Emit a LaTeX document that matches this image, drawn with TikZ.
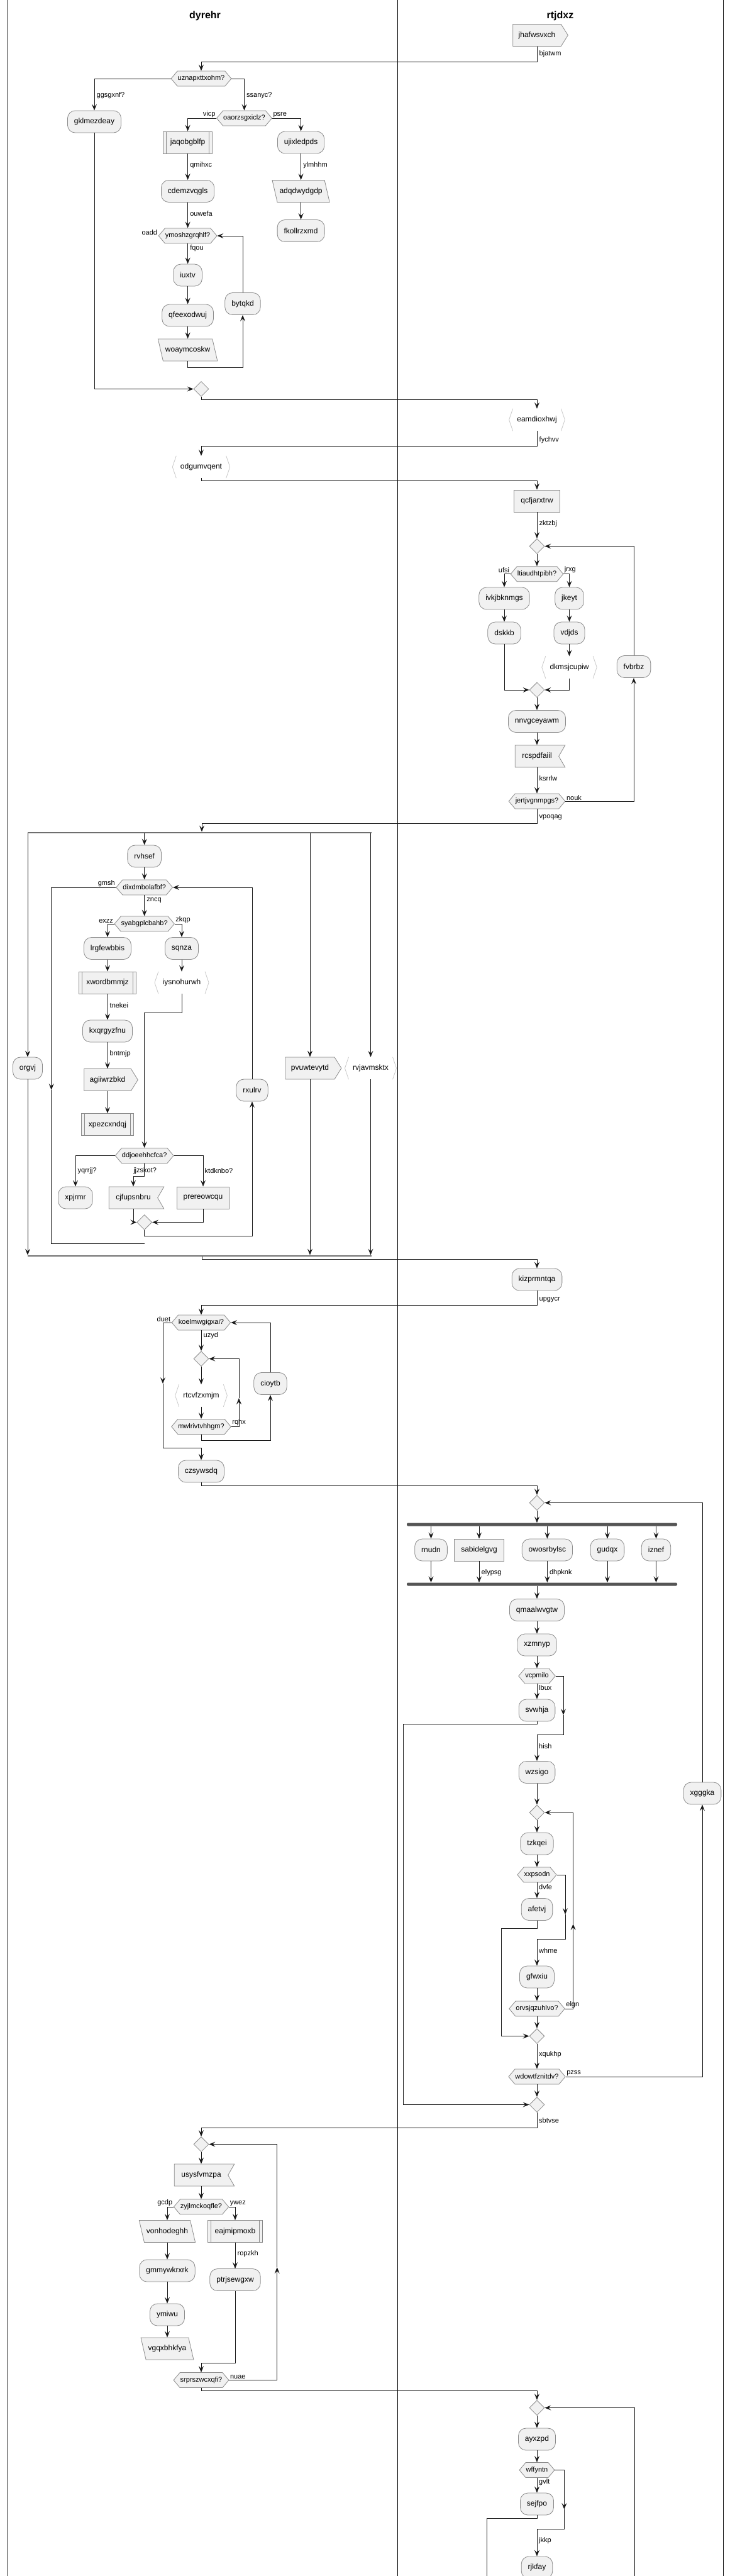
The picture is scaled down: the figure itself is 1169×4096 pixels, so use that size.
\documentclass[tikz,border=0pt]{standalone}
\usepackage{fontspec}
\setmainfont{Liberation Sans}
\usetikzlibrary{arrows.meta,shapes.geometric,shapes.symbols}

\definecolor{actfill}{HTML}{F1F1F1}
\definecolor{boxline}{HTML}{8A8A8A}
\definecolor{chevgray}{HTML}{C8C8C8}
\definecolor{flowline}{HTML}{181818}
\definecolor{barfill}{HTML}{555555}

\newcommand\actfont{\fontsize{12pt}{14pt}\selectfont}
\newcommand\decfont{\fontsize{11pt}{13pt}\selectfont}
\newcommand\lanefont{\fontsize{16pt}{19pt}\selectfont\bfseries}

\tikzset{
  act/.style={rectangle, rounded corners=12pt, draw=boxline, line width=0.8pt,
    fill=actfill, minimum height=35pt, inner xsep=10.5pt, inner ysep=0pt, font=\actfont},
  rectbox/.style={act, sharp corners},
  subbox/.style={rectbox, inner xsep=11.5pt,
    path picture={\draw[boxline, line width=0.8pt]
      ([xshift=5pt]path picture bounding box.north west) -- ([xshift=5pt]path picture bounding box.south west)
      ([xshift=-5pt]path picture bounding box.north east) -- ([xshift=-5pt]path picture bounding box.south east);}},
  parabox/.style={trapezium, trapezium left angle=103, trapezium right angle=77,
    draw=boxline, line width=0.8pt, fill=actfill, text height=9pt, text depth=2.5pt,
    inner xsep=3.5pt, inner ysep=11.75pt, font=\actfont},
  sendbox/.style={signal, signal to=east, signal pointer angle=116, draw=boxline,
    line width=0.8pt, fill=actfill, minimum height=35pt, inner xsep=9pt,
    inner ysep=0pt, font=\actfont},
  recvbox/.style={sendbox, signal to=nowhere, signal from=east,
    signal pointer angle=120, inner xsep=11pt},
  chevline/.style={draw=chevgray, line width=0.8pt},
  chevbox/.style={rectangle, minimum height=35pt, inner xsep=12.5pt, inner ysep=0pt, font=\actfont,
    append after command={
      ([xshift=6pt]\tikzlastnode.north west) edge[chevline] (\tikzlastnode.west)
      (\tikzlastnode.west) edge[chevline] ([xshift=6pt]\tikzlastnode.south west)
      ([xshift=-6pt]\tikzlastnode.north east) edge[chevline] (\tikzlastnode.east)
      (\tikzlastnode.east) edge[chevline] ([xshift=-6pt]\tikzlastnode.south east)}},
  hexa/.style={signal, signal to=west and east, signal pointer angle=100,
    draw=boxline, line width=0.8pt, fill=actfill, minimum height=24pt,
    inner xsep=0.5pt, inner ysep=0pt, font=\decfont},
  merge/.style={diamond, draw=boxline, line width=0.8pt, fill=actfill,
    minimum width=24pt, minimum height=24pt, inner sep=0pt},
  lbl/.style={font=\decfont, inner sep=1.5pt},
  conn/.style={draw=flowline, line width=1pt},
  flow/.style={conn, -{Stealth[length=10pt, width=8pt, inset=4pt]}},
  splitbar/.style={rectangle, fill=barfill!85, minimum height=2.5pt, inner sep=0pt},
  forkbar/.style={rectangle, rounded corners=2pt, fill=barfill, minimum height=5pt, inner sep=0pt},
  lane/.style={draw=black, line width=1pt},
}

\begin{document}
\begin{tikzpicture}[x=1pt, y=-1pt]
  \useasboundingbox (0,0) rectangle (1169,4096);
  \clip (0,0) rectangle (1169,4096);

  % swimlanes
  \draw[lane] (12,0) -- (12,4096);
  \draw[lane] (632,0) -- (632,4096);
  \draw[lane] (1150,0) -- (1150,4096);
  \node[font=\lanefont] (tdyrehr) at (326,25) {dyrehr};
  \node[font=\lanefont] (trtjdxz) at (891,25) {rtjdxz};

  % first block
  \node[sendbox] (jhafwsvxch) at (854,56) {jhafwsvxch};
  \node[hexa] (uznapxttxohm) at (320,125) {uznapxttxohm?};
  \node[act] (gklmezdeay) at (150,193.5) {gklmezdeay};
  \node[hexa] (oaorzsgxiclz) at (388.5,188) {oaorzsgxiclz?};
  \node[subbox] (jaqobgblfp) at (298.6,226.5) {jaqobgblfp};
  \node[act] (cdemzvqgls) at (298.6,304) {cdemzvqgls};
  \node[hexa] (ymoshzgrqhlf) at (298.6,375) {ymoshzgrqhlf?};
  \node[act] (iuxtv) at (298.6,437.5) {iuxtv};
  \node[act] (qfeexodwuj) at (298.6,501.5) {qfeexodwuj};
  \node[parabox] (woaymcoskw) at (298.6,556.5) {woaymcoskw};
  \node[act] (bytqkd) at (386,483) {bytqkd};
  \node[act] (ujixledpds) at (478.6,226.5) {ujixledpds};
  \node[parabox] (adqdwydgdp) at (478.6,304) {adqdwydgdp};
  \node[act] (fkollrzxmd) at (478.6,367) {fkollrzxmd};
  \node[merge] (m1) at (320,618.5) {};

  \draw[flow] (jhafwsvxch.south) |- (uznapxttxohm.north |- 0,98) -- (uznapxttxohm.north);
  \node[lbl, anchor=west] (lbjatwm) at (856,86) {bjatwm};
  \draw[flow] (uznapxttxohm.west) -| (gklmezdeay.north);
  \node[lbl, anchor=west] (lggsgxnf) at (152,152) {ggsgxnf?};
  \draw[flow] (uznapxttxohm.east) -| (oaorzsgxiclz.north);
  \node[lbl, anchor=west] (lssanyc) at (390.5,152) {ssanyc?};
  \draw[flow] (oaorzsgxiclz.west) -| (jaqobgblfp.north);
  \node[lbl, anchor=south east] (lvicp) at (oaorzsgxiclz.west) {vicp};
  \draw[flow] (oaorzsgxiclz.east) -| (ujixledpds.north);
  \node[lbl, anchor=south west] (lpsre) at (oaorzsgxiclz.east) {psre};
  \draw[flow] (jaqobgblfp.south) -- (cdemzvqgls.north);
  \node[lbl, anchor=west] (lqmihxc) at (300.6,263) {qmihxc};
  \draw[flow] (cdemzvqgls.south) -- (ymoshzgrqhlf.north);
  \node[lbl, anchor=west] (louwefa) at (300.6,340) {ouwefa};
  \draw[flow] (ymoshzgrqhlf.south) -- (iuxtv.north);
  \node[lbl, anchor=west] (lfqou) at (300.6,395) {fqou};
  \node[lbl, anchor=south east] (loadd) at (ymoshzgrqhlf.west) {oadd};
  \draw[flow] (iuxtv.south) -- (qfeexodwuj.north);
  \draw[flow] (qfeexodwuj.south) -- (qfeexodwuj.south |- woaymcoskw.north);
  \draw[flow] (woaymcoskw.center |- woaymcoskw.south) -- ++(0,10) -| (bytqkd.south);
  \draw[flow] (bytqkd.north) |- (ymoshzgrqhlf.east);
  \draw[flow] (ujixledpds.south) -- (ujixledpds.south |- adqdwydgdp.north);
  \node[lbl, anchor=west] (lylmhhm) at (480.6,263) {ylmhhm};
  \draw[flow] (fkollrzxmd.north |- adqdwydgdp.south) -- (fkollrzxmd.north);
  \draw[flow] (gklmezdeay.south) |- (m1.west);

  % second block
  \node[chevbox] (eamdioxhwj) at (854,667.5) {eamdioxhwj};
  \node[chevbox] (odgumvqent) at (320,742.5) {odgumvqent};
  \node[rectbox] (qcfjarxtrw) at (854,796.5) {qcfjarxtrw};
  \node[merge] (m2) at (854,868.5) {};
  \node[hexa] (ltiaudhtpibh) at (854,912.7) {ltiaudhtpibh?};
  \node[act] (ivkjbknmgs) at (802,951.5) {ivkjbknmgs};
  \node[act] (dskkb) at (802,1006.5) {dskkb};
  \node[act] (jkeyt) at (905.5,951.5) {jkeyt};
  \node[act] (vdjds) at (905.5,1006.5) {vdjds};
  \node[chevbox] (dkmsjcupiw) at (905.5,1061) {dkmsjcupiw};
  \node[act] (fvbrbz) at (1008,1060) {fvbrbz};
  \node[merge] (m3) at (854,1097) {};
  \node[act] (nnvgceyawm) at (854,1147) {nnvgceyawm};
  \node[recvbox] (rcspdfaiil) at (854,1202.5) {rcspdfaiil};
  \node[hexa] (jertjvgnmpgs) at (854,1274) {jertjvgnmpgs?};

  \draw[flow] (m1.south) -- ++(0,5) -| (eamdioxhwj.north);
  \draw[flow] (eamdioxhwj.south) -- ++(0,24) -| (odgumvqent.north);
  \node[lbl, anchor=west] (lfychvv) at (856,700) {fychvv};
  \draw[flow] (odgumvqent.south) -- ++(0,4) -| (qcfjarxtrw.north);
  \draw[flow] (qcfjarxtrw.south) -- (m2.north);
  \node[lbl, anchor=west] (lzktzbj) at (856,833) {zktzbj};
  \draw[flow] (m2.south) -- (ltiaudhtpibh.north);
  \draw[flow] (ltiaudhtpibh.west) -| (ivkjbknmgs.north);
  \node[lbl, anchor=south east] (lufsi) at (ltiaudhtpibh.west) {ufsi};
  \draw[flow] (ltiaudhtpibh.east) -| (jkeyt.north);
  \node[lbl, anchor=south west] (ljrxg) at (ltiaudhtpibh.east) {jrxg};
  \draw[flow] (ivkjbknmgs.south) -- (dskkb.north);
  \draw[flow] (jkeyt.south) -- (vdjds.north);
  \draw[flow] (vdjds.south) -- (dkmsjcupiw.north);
  \draw[flow] (dskkb.south) |- (m3.west);
  \draw[flow] (dkmsjcupiw.south) |- (m3.east);
  \draw[flow] (m3.south) -- (nnvgceyawm.north);
  \draw[flow] (nnvgceyawm.south) -- (nnvgceyawm.south |- rcspdfaiil.north);
  \draw[flow] (nnvgceyawm.south |- rcspdfaiil.south) -- (jertjvgnmpgs.north);
  \node[lbl, anchor=west] (lksrrlw) at (856,1238) {ksrrlw};
  \draw[flow] (jertjvgnmpgs.east) -| (fvbrbz.south);
  \node[lbl, anchor=south west] (lnouk) at (jertjvgnmpgs.east) {nouk};
  \draw[flow] (fvbrbz.north) |- (m2.east);

  % split
  \node[splitbar, minimum width=547pt] (sp1) at (317.5,1324) {};
  \node[act] (rvhsef) at (229.7,1361.5) {rvhsef};
  \node[hexa] (dixdmbolafbf) at (229.7,1411) {dixdmbolafbf?};
  \node[hexa] (syabgplcbahb) at (229.7,1469) {syabgplcbahb?};
  \node[act] (lrgfewbbis) at (171,1508) {lrgfewbbis};
  \node[subbox] (xwordbmmjz) at (171,1562.5) {xwordbmmjz};
  \node[act] (kxqrgyzfnu) at (171,1639.5) {kxqrgyzfnu};
  \node[sendbox] (agiiwrzbkd) at (171,1717) {agiiwrzbkd};
  \node[subbox] (xpezcxndqj) at (171,1788) {xpezcxndqj};
  \node[act] (sqnza) at (289,1508) {sqnza};
  \node[chevbox] (iysnohurwh) at (289,1562.5) {iysnohurwh};
  \node[hexa] (ddjoeehhcfca) at (229.7,1837.5) {ddjoeehhcfca?};
  \node[act] (xpjrmr) at (120,1904.5) {xpjrmr};
  \node[recvbox] (cjfupsnbru) at (212,1904.5) {cjfupsnbru};
  \node[rectbox] (prereowcqu) at (323,1904.5) {prereowcqu};
  \node[merge] (m4) at (229.7,1943.5) {};
  \node[act] (rxulrv) at (401,1733.5) {rxulrv};
  \node[act] (orgvj) at (44,1698.5) {orgvj};
  \node[sendbox] (pvuwtevytd) at (493,1698.5) {pvuwtevytd};
  \node[chevbox] (rvjavmsktx) at (589.5,1698.5) {rvjavmsktx};
  \node[splitbar, minimum width=547pt] (sp2) at (317.5,1997) {};

  \draw[flow] (jertjvgnmpgs.south) -- ++(0,23) -| (sp1.north -| 321,0);
  \node[lbl, anchor=west] (lvpoqag) at (856,1300) {vpoqag};
  \draw[flow] (sp1.south -| orgvj.north) -- (orgvj.north);
  \draw[flow] (sp1.south -| rvhsef.north) -- (rvhsef.north);
  \draw[flow] (sp1.south -| pvuwtevytd.north) -- (pvuwtevytd.north);
  \draw[flow] (sp1.south -| rvjavmsktx.north) -- (rvjavmsktx.north);
  \draw[flow] (rvhsef.south) -- (dixdmbolafbf.north);
  \draw[flow] (dixdmbolafbf.south) -- (syabgplcbahb.north);
  \node[lbl, anchor=west] (lzncq) at (231.7,1432) {zncq};
  \coordinate (gmshmid) at (81.7,1733);
  \coordinate (gmshend) at (229.7,1977);
  \draw[flow] (dixdmbolafbf.west) -| (gmshmid);
  \draw[conn] (gmshmid) |- (gmshend);
  \node[lbl, anchor=south east] (lgmsh) at (dixdmbolafbf.west) {gmsh};
  \draw[flow] (syabgplcbahb.west) -| (lrgfewbbis.north);
  \node[lbl, anchor=south east] (lexzz) at (syabgplcbahb.west) {exzz};
  \draw[flow] (syabgplcbahb.east) -| (sqnza.north);
  \node[lbl, anchor=south west] (lzkqp) at (syabgplcbahb.east) {zkqp};
  \draw[flow] (lrgfewbbis.south) -- (xwordbmmjz.north);
  \draw[flow] (xwordbmmjz.south) -- (kxqrgyzfnu.north);
  \node[lbl, anchor=west] (ltnekei) at (173,1599) {tnekei};
  \draw[flow] (kxqrgyzfnu.south) -- (kxqrgyzfnu.south |- agiiwrzbkd.north);
  \node[lbl, anchor=west] (lbntmjp) at (173,1676) {bntmjp};
  \draw[flow] (kxqrgyzfnu.south |- agiiwrzbkd.south) -- (xpezcxndqj.north);
  \draw[flow] (sqnza.south) -- (iysnohurwh.north);
  \draw[flow] (iysnohurwh.south) -- ++(0,30) -| (ddjoeehhcfca.north);
  \draw[flow] (ddjoeehhcfca.west) -| (xpjrmr.north);
  \node[lbl, anchor=west] (lyqrrjj) at (122,1862) {yqrrjj?};
  \draw[flow] (ddjoeehhcfca.south) -- ++(0,21) -| (cjfupsnbru.north);
  \node[lbl, anchor=west] (ljjzskot) at (210.6,1862) {jjzskot?};
  \draw[flow] (ddjoeehhcfca.east) -| (prereowcqu.north);
  \node[lbl, anchor=west] (lktdknbo) at (324,1862) {ktdknbo?};
  \draw[flow] (cjfupsnbru.south) |- (m4.west);
  \draw[flow] (prereowcqu.south) |- (m4.east);
  \draw[flow] (m4.south) -- ++(0,10) -| (rxulrv.south);
  \draw[flow] (rxulrv.north) |- (dixdmbolafbf.east);
  \draw[flow] (orgvj.south) -- (orgvj.south |- sp2.north);
  \draw[flow] (pvuwtevytd.south) -- (pvuwtevytd.south |- sp2.north);
  \draw[flow] (rvjavmsktx.south) -- (rvjavmsktx.south |- sp2.north);

  % nested loops
  \node[act] (kizprmntqa) at (854,2034.5) {kizprmntqa};
  \node[hexa] (koelmwgigxai) at (320,2103) {koelmwgigxai?};
  \node[merge] (m5) at (320,2160.5) {};
  \node[chevbox] (rtcvfzxmjm) at (320,2219) {rtcvfzxmjm};
  \node[hexa] (mwlrivtvhhgm) at (320,2268.5) {mwlrivtvhhgm?};
  \node[act] (cioytb) at (430,2200) {cioytb};
  \node[act] (czsywsdq) at (320,2339.5) {czsywsdq};

  \draw[flow] (sp2.south -| 321,0) -- ++(0,4) -| (kizprmntqa.north);
  \draw[flow] (kizprmntqa.south) -- ++(0,23.5) -| (koelmwgigxai.north);
  \node[lbl, anchor=west] (lupgycr) at (856,2067) {upgycr};
  \draw[flow] (koelmwgigxai.south) -- (m5.north);
  \node[lbl, anchor=west] (luzyd) at (322,2124) {uzyd};
  \coordinate (duetmid) at (259,2200);
  \draw[flow] (koelmwgigxai.west) -| (duetmid);
  \draw[flow] (duetmid) |- (czsywsdq.north |- 0,2302) -- (czsywsdq.north);
  \node[lbl, anchor=south east] (lduet) at (koelmwgigxai.west) {duet};
  \draw[flow] (m5.south) -- (rtcvfzxmjm.north);
  \draw[flow] (rtcvfzxmjm.south) -- (mwlrivtvhhgm.north);
  \coordinate (rqhxmid) at (380,2223);
  \draw[flow] (mwlrivtvhhgm.east) -| (rqhxmid);
  \draw[flow] (rqhxmid) |- (m5.east);
  \node[lbl, anchor=south west] (lrqhx) at (mwlrivtvhhgm.east) {rqhx};
  \draw[flow] (mwlrivtvhhgm.south) -- ++(0,9.5) -| (cioytb.south);
  \draw[flow] (cioytb.north) |- (koelmwgigxai.east);

  % fork
  \node[merge] (m6) at (854,2389.5) {};
  \node[forkbar, minimum width=430pt] (fk1) at (862,2424) {};
  \node[act] (rnudn) at (685.5,2464.5) {rnudn};
  \node[rectbox] (sabidelgvg) at (762,2464.5) {sabidelgvg};
  \node[act] (owosrbylsc) at (870.4,2464.5) {owosrbylsc};
  \node[act] (gudqx) at (966,2464.5) {gudqx};
  \node[act] (iznef) at (1043.5,2464.5) {iznef};
  \node[forkbar, minimum width=430pt] (fk2) at (862,2519) {};
  \node[act] (qmaalwvgtw) at (854,2560) {qmaalwvgtw};
  \node[act] (xzmnyp) at (854,2615.5) {xzmnyp};
  \node[hexa] (vcpmilo) at (854,2665) {vcpmilo};
  \node[act] (svwhja) at (854,2719.5) {svwhja};
  \node[act] (wzsigo) at (854,2818) {wzsigo};
  \node[merge] (m7) at (854,2882) {};
  \node[act] (tzkqei) at (854,2931.5) {tzkqei};
  \node[hexa] (xxpsodn) at (854,2981) {xxpsodn};
  \node[act] (afetvj) at (854,3036) {afetvj};
  \node[act] (gfwxiu) at (854,3143.5) {gfwxiu};
  \node[hexa] (orvsjqzuhlvo) at (854,3194) {orvsjqzuhlvo?};
  \node[merge] (m8) at (854,3237.5) {};
  \node[hexa] (wdowtfznitdv) at (854,3302) {wdowtfznitdv?};
  \node[act] (xgggka) at (1117,2851.5) {xgggka};
  \node[merge] (m9) at (854,3346.5) {};

  \draw[flow] (czsywsdq.south) -- ++(0,5) -| (m6.north);
  \draw[flow] (m6.south) -- (m6.south |- fk1.north);
  \draw[flow] (fk1.south -| rnudn.north) -- (rnudn.north);
  \draw[flow] (fk1.south -| sabidelgvg.north) -- (sabidelgvg.north);
  \draw[flow] (fk1.south -| owosrbylsc.north) -- (owosrbylsc.north);
  \draw[flow] (fk1.south -| gudqx.north) -- (gudqx.north);
  \draw[flow] (fk1.south -| iznef.north) -- (iznef.north);
  \draw[flow] (rnudn.south) -- (rnudn.south |- fk2.north);
  \draw[flow] (sabidelgvg.south) -- (sabidelgvg.south |- fk2.north);
  \node[lbl, anchor=west] (lelypsg) at (764,2500.7) {elypsg};
  \draw[flow] (owosrbylsc.south) -- (owosrbylsc.south |- fk2.north);
  \node[lbl, anchor=west] (ldhpknk) at (872.4,2500.7) {dhpknk};
  \draw[flow] (gudqx.south) -- (gudqx.south |- fk2.north);
  \draw[flow] (iznef.south) -- (iznef.south |- fk2.north);
  \draw[flow] (fk2.south -| qmaalwvgtw.north) -- (qmaalwvgtw.north);
  \draw[flow] (qmaalwvgtw.south) -- (xzmnyp.north);
  \draw[flow] (xzmnyp.south) -- (vcpmilo.north);
  \draw[flow] (vcpmilo.south) -- (svwhja.north);
  \node[lbl, anchor=west] (llbux) at (855.5,2684) {lbux};
  \coordinate (vcpmid) at (896,2727);
  \draw[flow] (vcpmilo.east) -| (vcpmid);
  \draw[flow] (vcpmid) |- (wzsigo.north |- 0,2758) -- (wzsigo.north);
  \node[lbl, anchor=west] (lhish) at (855.5,2777) {hish};
  \draw[flow] (svwhja.south) -- ++(0,4) -| (m9.west -| 641,0) -- (m9.west);
  \draw[flow] (wzsigo.south) -- (m7.north);
  \draw[flow] (m7.south) -- (tzkqei.north);
  \draw[flow] (tzkqei.south) -- (xxpsodn.north);
  \draw[flow] (xxpsodn.south) -- (afetvj.north);
  \node[lbl, anchor=west] (ldvfe) at (855.5,3001) {dvfe};
  \coordinate (xxpmid) at (899,3044);
  \draw[flow] (xxpsodn.east) -| (xxpmid);
  \draw[flow] (xxpmid) |- (gfwxiu.north |- 0,3083) -- (gfwxiu.north);
  \node[lbl, anchor=west] (lwhme) at (855.5,3102) {whme};
  \draw[flow] (gfwxiu.south) -- (orvsjqzuhlvo.north);
  \coordinate (elgnmid) at (911.6,3059);
  \draw[flow] (orvsjqzuhlvo.east) -| (elgnmid);
  \draw[flow] (elgnmid) |- (m7.east);
  \node[lbl, anchor=south west] (lelgn) at (orvsjqzuhlvo.east) {elgn};
  \draw[flow] (afetvj.south) -- ++(0,12.5) -| (m8.west -| 797,0) -- (m8.west);
  \draw[flow] (orvsjqzuhlvo.south) -- (m8.north);
  \draw[flow] (m8.south) -- (wdowtfznitdv.north);
  \node[lbl, anchor=west] (lxqukhp) at (855.5,3267) {xqukhp};
  \draw[flow] (wdowtfznitdv.east) -| (xgggka.south);
  \node[lbl, anchor=south west] (lpzss) at (wdowtfznitdv.east) {pzss};
  \draw[flow] (xgggka.north) |- (m6.east);
  \draw[flow] (wdowtfznitdv.south) -- (m9.north);

  % repeat block
  \node[merge] (m10) at (320,3409.5) {};
  \node[recvbox] (usysfvmzpa) at (320,3458.5) {usysfvmzpa};
  \node[hexa] (zyjlmckoqfle) at (320,3509) {zyjlmckoqfle?};
  \node[parabox] (vonhodeghh) at (266,3548) {vonhodeghh};
  \node[act] (gmmywkrxrk) at (266,3610.5) {gmmywkrxrk};
  \node[act] (ymiwu) at (266,3680.5) {ymiwu};
  \node[parabox] (vgqxbhkfya) at (266,3734.5) {vgqxbhkfya};
  \node[subbox] (eajmipmoxb) at (374,3548) {eajmipmoxb};
  \node[act] (ptrjsewgxw) at (374,3625) {ptrjsewgxw};
  \node[hexa] (srprszwcxqfi) at (320,3784.5) {srprszwcxqfi?};

  \draw[flow] (m9.south) -- ++(0,24.5) -| (m10.north);
  \node[lbl, anchor=west] (lsbtvse) at (855.5,3372) {sbtvse};
  \draw[flow] (m10.south) -- (m10.south |- usysfvmzpa.north);
  \draw[flow] (m10.south |- usysfvmzpa.south) -- (zyjlmckoqfle.north);
  \draw[flow] (zyjlmckoqfle.west) -| (vonhodeghh.center |- vonhodeghh.north);
  \node[lbl, anchor=south east] (lgcdp) at (zyjlmckoqfle.west) {gcdp};
  \draw[flow] (zyjlmckoqfle.east) -| (eajmipmoxb.north);
  \node[lbl, anchor=south west] (lywez) at (zyjlmckoqfle.east) {ywez};
  \draw[flow] (vonhodeghh.center |- vonhodeghh.south) -- (gmmywkrxrk.north);
  \draw[flow] (gmmywkrxrk.south) -- (ymiwu.north);
  \draw[flow] (ymiwu.south) -- (ymiwu.south |- vgqxbhkfya.north);
  \draw[flow] (eajmipmoxb.south) -- (ptrjsewgxw.north);
  \node[lbl, anchor=west] (lropzkh) at (376,3584) {ropzkh};
  \draw[flow] (ptrjsewgxw.south) -- ++(0,114.5) -| (srprszwcxqfi.north);
  \coordinate (nuaemid) at (440.7,3605);
  \draw[flow] (srprszwcxqfi.east) -| (nuaemid);
  \draw[flow] (nuaemid) |- (m10.east);
  \node[lbl, anchor=south west] (lnuae) at (srprszwcxqfi.east) {nuae};

  % last loop
  \node[merge] (m11) at (854,3828.5) {};
  \node[act] (ayxzpd) at (854,3878.5) {ayxzpd};
  \node[hexa] (wffyntn) at (854,3927.5) {wffyntn};
  \node[act] (sejfpo) at (854,3981.5) {sejfpo};
  \node[act] (rjkfay) at (854,4082.5) {rjkfay};
  \coordinate (wffmid) at (897.4,3990);
  \coordinate (sejfpoend) at (774,4110);
  \coordinate (m11loop) at (1009,4110);

  \draw[flow] (srprszwcxqfi.south) -- ++(0,4.5) -| (m11.north);
  \draw[flow] (m11.south) -- (ayxzpd.north);
  \draw[flow] (ayxzpd.south) -- (wffyntn.north);
  \draw[flow] (wffyntn.south) -- (sejfpo.north);
  \node[lbl, anchor=west] (lgvlt) at (855.5,3947) {gvlt};
  \draw[flow] (wffyntn.east) -| (wffmid);
  \draw[flow] (wffmid) |- (rjkfay.north |- 0,4021) -- (rjkfay.north);
  \node[lbl, anchor=west] (ljkkp) at (855.5,4040) {jkkp};
  \draw[conn] (sejfpo.south) -- ++(0,5) -| (sejfpoend);
  \draw[flow] (m11loop) |- (m11.east);
\end{tikzpicture}
\end{document}
